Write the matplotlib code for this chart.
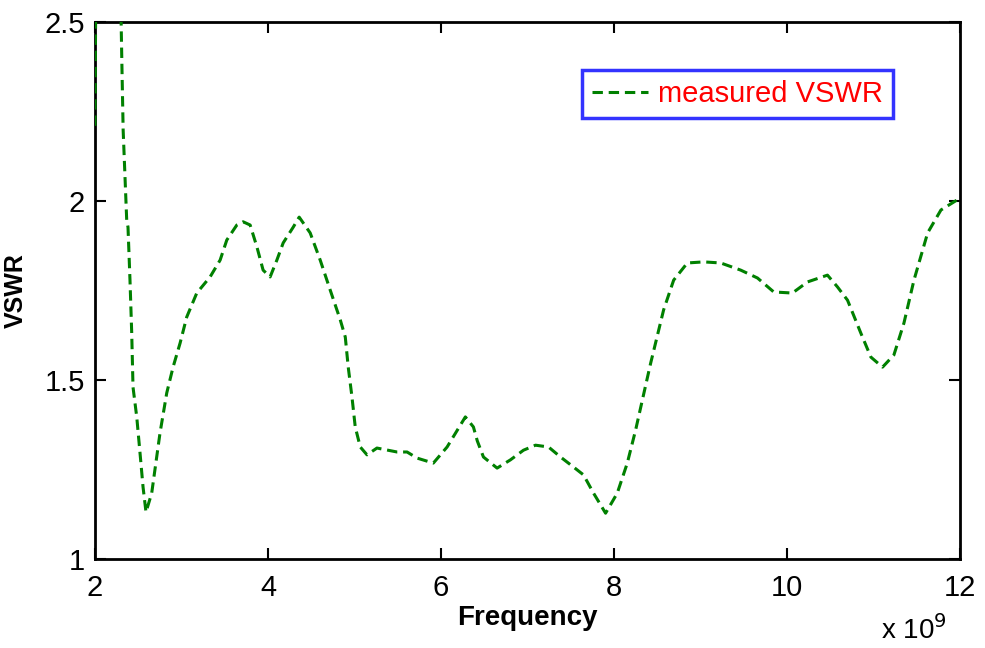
import matplotlib
matplotlib.use("Agg")
import matplotlib.pyplot as plt
from matplotlib.ticker import FuncFormatter

plt.rcParams['font.family'] = ['Liberation Sans', 'DejaVu Sans']

# Measured VSWR versus frequency (GHz)
freq_ghz = [2.0, 2.01, 2.15, 2.295, 2.312, 2.326, 2.367, 2.382, 2.405, 2.425, 2.44,
            2.483, 2.521, 2.556, 2.59, 2.656, 2.752, 2.83, 2.903, 2.984, 3.061,
            3.177, 3.331, 3.447, 3.524, 3.64, 3.713, 3.794, 3.872, 3.944, 4.025,
            4.103, 4.176, 4.292, 4.361, 4.488, 4.604, 4.72, 4.836, 4.894, 4.928,
            4.971, 5.009, 5.067, 5.145, 5.26, 5.492, 5.608, 5.723, 5.912, 6.071,
            6.282, 6.375, 6.42, 6.491, 6.649, 6.803, 6.954, 7.093, 7.243, 7.382,
            7.532, 7.648, 7.764, 7.903, 8.038, 8.154, 8.25, 8.328, 8.424, 8.574,
            8.69, 8.848, 9.037, 9.234, 9.465, 9.659, 9.847, 10.063, 10.237, 10.468,
            10.584, 10.7, 10.854, 10.97, 11.105, 11.236, 11.352, 11.468, 11.626,
            11.78, 12.0]
vswr = [2.21, 2.6, 3.2, 2.6, 2.374, 2.198, 1.947, 1.927, 1.779, 1.631, 1.48,
        1.397, 1.296, 1.201, 1.131, 1.184, 1.352, 1.464, 1.536, 1.603, 1.676,
        1.743, 1.788, 1.835, 1.891, 1.933, 1.942, 1.933, 1.872, 1.807, 1.788,
        1.835, 1.883, 1.927, 1.955, 1.911, 1.835, 1.751, 1.668, 1.62, 1.536,
        1.453, 1.369, 1.313, 1.291, 1.31, 1.299, 1.299, 1.282, 1.268, 1.313,
        1.397, 1.369, 1.33, 1.285, 1.254, 1.277, 1.304, 1.318, 1.313, 1.285,
        1.257, 1.235, 1.184, 1.128, 1.184, 1.268, 1.36, 1.444, 1.547, 1.696,
        1.779, 1.827, 1.83, 1.827, 1.807, 1.785, 1.746, 1.743, 1.774, 1.793,
        1.76, 1.723, 1.631, 1.564, 1.536, 1.57, 1.659, 1.779, 1.911,
        1.975, 2.008]

freq_hz = [f * 1e9 for f in freq_ghz]

x_ticks = [2e9, 4e9, 6e9, 8e9, 10e9, 12e9]
y_ticks = [1.0, 1.5, 2.0, 2.5]
y_tick_labels = ['1', '1.5', '2', '2.5']

fig = plt.figure(figsize=(9.85, 6.48), dpi=100)
ax = fig.add_axes([0.0964, 0.1373, 0.8782, 0.8287])

ax.plot(freq_hz, vswr, color='#008000', linestyle=(0, (3.4, 1.9)), linewidth=2.2,
        label='measured VSWR', zorder=3)

ax.set_xlim(2e9, 12e9)
ax.set_ylim(1.0, 2.5)
ax.set_xticks(x_ticks)
ax.xaxis.set_major_formatter(FuncFormatter(lambda v, p: f"{v / 1e9:g}"))
ax.set_yticks(y_ticks)
ax.set_yticklabels(y_tick_labels)

ax.tick_params(direction='in', length=8, width=1.5, top=True, right=True,
               labelsize=21, colors='black')
ax.tick_params(axis='x', pad=11)
ax.tick_params(axis='y', pad=7)
for s in ax.spines.values():
    s.set_linewidth(2.0)

ax.set_xlabel('Frequency', fontsize=20, fontweight='bold', labelpad=2)
ax.set_ylabel('VSWR', fontsize=18, fontweight='bold', labelpad=12)

ax.text(0.985, -0.105, r'x 10$^9$', transform=ax.transAxes, ha='right', va='top',
        fontsize=20)

leg = ax.legend(loc='upper right', bbox_to_anchor=(0.9225, 0.911), fontsize=21,
                frameon=True, fancybox=False, handlelength=1.9, handletextpad=0.35,
                borderpad=0.35, borderaxespad=0)
leg.get_frame().set_edgecolor('#0000ff')
leg.get_frame().set_linewidth(2.5)
for t in leg.get_texts():
    t.set_color('#ff0000')

fig.savefig('out.png', dpi=100)
